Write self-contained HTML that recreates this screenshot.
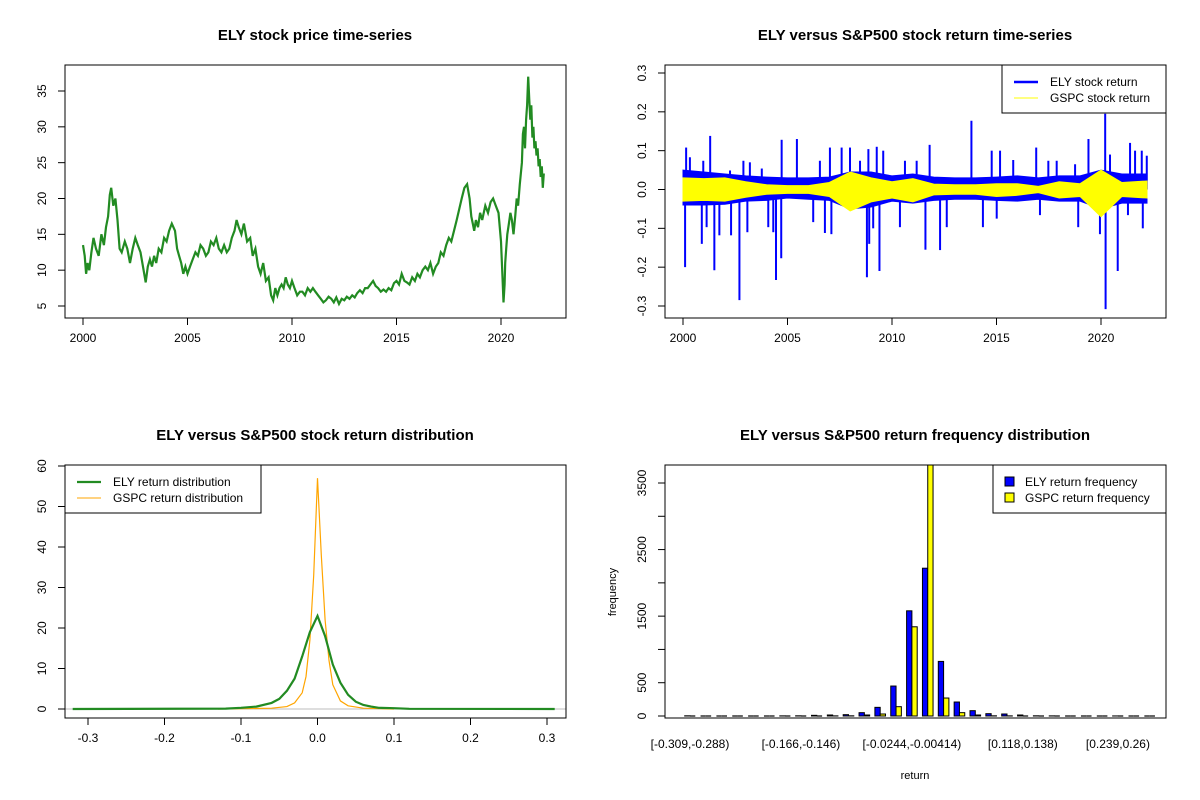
<!DOCTYPE html>
<html><head><meta charset="utf-8">
<style>
body{margin:0;background:#fff;}
svg{display:block;font-family:"Liberation Sans",Arial,sans-serif;}
</style></head>
<body>
<svg id="c" width="1200" height="800" viewBox="0 0 1200 800" xmlns="http://www.w3.org/2000/svg"></svg>
<script>
// ---- Panel 1: ELY price ----
const priceYears=[2000.0,2000.08,2000.15,2000.22,2000.3,2000.4,2000.5,2000.62,2000.75,2000.88,2001.0,2001.1,2001.2,2001.28,2001.35,2001.45,2001.55,2001.65,2001.75,2001.85,2002.0,2002.12,2002.25,2002.38,2002.5,2002.62,2002.75,2002.9,2003.0,2003.1,2003.2,2003.3,2003.4,2003.5,2003.62,2003.75,2003.88,2004.0,2004.12,2004.25,2004.4,2004.5,2004.6,2004.7,2004.8,2004.9,2005.0,2005.12,2005.25,2005.38,2005.5,2005.62,2005.75,2005.88,2006.0,2006.12,2006.25,2006.38,2006.5,2006.62,2006.75,2006.88,2007.0,2007.12,2007.25,2007.35,2007.45,2007.58,2007.7,2007.85,2008.0,2008.12,2008.25,2008.38,2008.5,2008.62,2008.75,2008.88,2009.0,2009.1,2009.2,2009.3,2009.4,2009.5,2009.6,2009.7,2009.8,2009.9,2010.0,2010.12,2010.25,2010.38,2010.5,2010.62,2010.75,2010.88,2011.0,2011.12,2011.25,2011.38,2011.5,2011.62,2011.75,2011.88,2012.0,2012.12,2012.25,2012.38,2012.5,2012.62,2012.75,2012.88,2013.0,2013.12,2013.25,2013.38,2013.5,2013.62,2013.75,2013.88,2014.0,2014.12,2014.25,2014.38,2014.5,2014.62,2014.75,2014.88,2015.0,2015.12,2015.25,2015.38,2015.5,2015.62,2015.75,2015.88,2016.0,2016.12,2016.25,2016.38,2016.5,2016.62,2016.75,2016.88,2017.0,2017.12,2017.25,2017.38,2017.5,2017.62,2017.75,2017.88,2018.0,2018.12,2018.25,2018.38,2018.5,2018.58,2018.65,2018.72,2018.8,2018.9,2019.0,2019.1,2019.25,2019.38,2019.5,2019.62,2019.75,2019.88,2020.0,2020.07,2020.12,2020.17,2020.2,2020.25,2020.3,2020.38,2020.45,2020.52,2020.6,2020.68,2020.75,2020.82,2020.9,2021.0,2021.05,2021.1,2021.15,2021.2,2021.25,2021.3,2021.35,2021.4,2021.45,2021.5,2021.55,2021.6,2021.65,2021.7,2021.75,2021.8,2021.85,2021.9,2021.95,2022.0,2022.05,2022.1,2022.15];
const priceVals=[13.5,12,9.5,11,10,12.5,14.5,13,12,15,13.5,16,17.5,20.5,21.5,19,20,17,13,12.5,14,13,11,13,14.5,13.5,12.5,10,8.3,10.5,11.5,10.5,12,11,13,12.5,14.5,14,15.5,16.5,15.5,13,12,11,9.5,10.5,9.5,10.5,11.5,12.5,12,13.5,13,12,12.5,14,13.5,14.5,13,12.5,13.5,12.5,13,14.5,15.5,17,16,15,16.5,14,14.5,12,13,10.5,9.5,11,8.5,9,6.5,5.8,7.5,6.5,7.5,8,7.5,9,8,7.5,8.5,7.5,6.5,7,7,6.5,7.5,7,7.5,7,6.5,6,5.5,5.8,6.3,6,5.5,6.2,5.3,6,5.8,6.3,6,6.5,6.2,6.8,7.2,6.8,7.5,7.5,8,8.5,7.8,7.5,7,7.3,7,7.5,7.2,8.2,8.5,8,9.5,8.5,8.3,8,9,8.5,9.5,9,10,10.5,10,11,9.5,10.5,11,12.5,12,13.5,14.5,14,15.5,17,18.5,20,21.5,22,20,17.5,16.5,15.5,17,16,18,17,19,18,19.5,20,19,18,14,9,5.5,8,11,13,15,16.5,18,17,15,17.5,20,19,22,25,29,30,27,31,33,37,34,31,33,28.5,30,27,28,26,27,24.5,25.5,23,24.5,21.5,23.5];
const priceTicksX=[2000,2005,2010,2015,2020];
const priceTicksY=[5,10,15,20,25,30,35];
// ---- Panel 2: returns ----
const retYears=[2000,2001,2002,2003,2004,2005,2006,2007,2008,2009,2010,2011,2012,2013,2014,2015,2016,2017,2018,2019,2020,2021,2022.2];
const elyHi=[0.05,0.045,0.04,0.035,0.032,0.03,0.03,0.032,0.045,0.045,0.035,0.04,0.032,0.03,0.03,0.032,0.035,0.03,0.035,0.035,0.05,0.04,0.04];
const elyLo=[-0.04,-0.04,-0.038,-0.03,-0.028,-0.022,-0.025,-0.028,-0.05,-0.045,-0.03,-0.035,-0.028,-0.025,-0.025,-0.028,-0.03,-0.025,-0.03,-0.03,-0.05,-0.035,-0.035];
const gspcHi=[0.03,0.028,0.03,0.02,0.012,0.01,0.01,0.018,0.045,0.03,0.02,0.028,0.014,0.012,0.012,0.015,0.015,0.008,0.02,0.015,0.05,0.018,0.022];
const gspcLo=[-0.03,-0.028,-0.03,-0.02,-0.012,-0.01,-0.01,-0.018,-0.055,-0.032,-0.022,-0.032,-0.014,-0.012,-0.012,-0.018,-0.015,-0.008,-0.022,-0.018,-0.07,-0.018,-0.022];
const spikeYears=[2000.1,2000.15,2000.33,2000.9,2000.97,2001.13,2001.3,2001.5,2001.74,2002.25,2002.3,2002.7,2002.89,2003.08,2003.2,2003.77,2004.08,2004.32,2004.45,2004.7,2004.72,2005.45,2006.23,2006.55,2006.79,2007.03,2007.1,2007.59,2007.99,2008.47,2008.8,2008.87,2008.91,2009.1,2009.27,2009.4,2009.58,2010.38,2010.62,2011.18,2011.6,2011.8,2012.3,2012.62,2013.8,2014.35,2014.77,2015.01,2015.17,2015.8,2016.9,2017.08,2017.48,2017.88,2018.76,2018.91,2019.4,2019.95,2020.2,2020.22,2020.43,2020.8,2021.29,2021.39,2021.63,2021.95,2022.0,2022.19];
const spikeVals=[-0.2,0.108,0.083,-0.14,0.074,-0.097,0.138,-0.208,-0.118,0.049,-0.118,-0.285,0.074,-0.11,0.07,0.054,-0.097,-0.11,-0.233,-0.177,0.128,0.13,-0.084,0.074,-0.112,0.108,-0.115,0.108,0.108,0.074,-0.226,0.104,-0.14,-0.1,0.11,-0.21,0.1,-0.097,0.074,0.074,-0.155,0.115,-0.156,-0.097,0.177,-0.097,0.1,-0.075,0.1,0.076,0.108,-0.066,0.074,0.074,0.065,-0.097,0.13,-0.115,0.195,-0.308,0.09,-0.21,-0.066,0.12,0.1,0.1,-0.1,0.087];
const retTicksY=[-0.3,-0.2,-0.1,0.0,0.1,0.2,0.3];
// ---- Panel 3: densities ----
const densX=[-0.32,-0.12,-0.1,-0.08,-0.06,-0.05,-0.04,-0.03,-0.02,-0.01,0,0.01,0.02,0.03,0.04,0.05,0.06,0.07,0.08,0.1,0.12,0.31];
const elyDens=[0,0.1,0.3,0.6,1.5,2.5,4.5,7.5,13,19,23,18,11,6.5,3.5,1.8,1,0.6,0.3,0.2,0.05,0];
const gspcX=[-0.13,-0.06,-0.04,-0.03,-0.02,-0.015,-0.01,-0.005,0,0.005,0.01,0.015,0.02,0.03,0.04,0.06,0.1];
const gspcDens=[0,0.2,0.6,1.5,4,8,17,33,57,38,22,12,6,2,0.8,0.2,0];
const densTicksX=[-0.3,-0.2,-0.1,0,0.1,0.2,0.3];
const densTicksY=[0,10,20,30,40,50,60];
// ---- Panel 4: histogram ----
const elyFreq=[3,0,0,0,0,0,2,3,10,15,20,50,130,450,1580,2220,820,210,80,35,30,15,3,2,0,0,0,1,0,0];
const gspcFreq=[0,0,0,0,0,0,0,0,0,2,3,15,30,140,1340,3900,270,50,15,3,2,0,0,0,0,0,0,0,0,0];
const binLabels=["[-0.309,-0.288)","[-0.166,-0.146)","[-0.0244,-0.00414)","[0.118,0.138)","[0.239,0.26)"];
const binLabelIdx=[0,7,14,21,27];
const freqTicks=[0,500,1000,1500,2000,2500,3000,3500];
const freqTickLabels=["0","500","","1500","","2500","","3500"];

const svg=document.getElementById('c');
const NS='http://www.w3.org/2000/svg';
function mk(tag,attrs,parent,name,text){
  const e=document.createElementNS(NS,tag);
  for(const k in attrs)e.setAttribute(k,attrs[k]);
  
  
  if(text!==undefined)e.textContent=text;
  (parent||svg).appendChild(e);return e;
}
function lin(d0,d1,r0,r1){return v=>r0+(v-d0)*(r1-r0)/(d1-d0);}
function frame(x0,y0,x1,y1,name){mk('rect',{x:x0,y:y0,width:x1-x0,height:y1-y0,fill:'none',stroke:'#000','stroke-width':1},svg,name);}
function title(t,cx,y){mk('text',{x:cx,y:y,'text-anchor':'middle','font-size':15,'font-weight':'bold'},svg,'chart-title',t);}
function xAxis(ticks,sx,y,labels,name){
  const g=mk('g',{},svg,name);
  mk('line',{x1:sx(ticks[0]),x2:sx(ticks[ticks.length-1]),y1:y,y2:y,stroke:'#000'},g,'x-axis-line');
  ticks.forEach((t,i)=>{mk('line',{x1:sx(t),x2:sx(t),y1:y,y2:y+7,stroke:'#000'},g,'x-tick');
    mk('text',{x:sx(t),y:y+24,'text-anchor':'middle','font-size':12},g,'x-tick-label',labels?labels[i]:String(t));});
}
function yAxis(ticks,sy,x,labels,name){
  const g=mk('g',{},svg,name);
  mk('line',{x1:x,x2:x,y1:sy(ticks[0]),y2:sy(ticks[ticks.length-1]),stroke:'#000'},g,'y-axis-line');
  ticks.forEach((t,i)=>{const y=sy(t);mk('line',{x1:x,x2:x-7,y1:y,y2:y,stroke:'#000'},g,'y-tick');
    const lx=x-19;
    mk('text',{x:lx,y:y,'text-anchor':'middle','font-size':12,transform:`rotate(-90 ${lx} ${y})`},g,'y-tick-label',labels?labels[i]:String(t));});
}
function poly(xs,ys,sx,sy){return xs.map((x,i)=>sx(x).toFixed(1)+','+sy(ys[i]).toFixed(1)).join(' ');}

// Panel 1
{
 const sx=lin(2000,2020,83,501), sy=lin(5,35,306,91);
 title('ELY stock price time-series',315,40);
 mk('polyline',{points:poly(priceYears,priceVals,sx,sy),fill:'none',stroke:'#228B22','stroke-width':2.2,'stroke-linejoin':'miter'},svg,'ely-price-line');
 frame(65,65,566,318,'plot-frame-price');
 xAxis(priceTicksX,sx,318,null,'x-axis-price');
 yAxis(priceTicksY,sy,65,null,'y-axis-price');
}
// Panel 2
{
 const sx=lin(2000,2020,683,1101), sy=lin(-0.3,0.3,306,73);
 title('ELY versus S&P500 stock return time-series',915,40);
 const revY=retYears.slice().reverse();
 mk('polygon',{points:poly(retYears.concat(revY),elyHi.concat(elyLo.slice().reverse()),sx,sy),fill:'#0000FF',stroke:'#0000FF'},svg,'ely-return-band');
 spikeYears.forEach((yr,i)=>{mk('line',{x1:sx(yr),x2:sx(yr),y1:sy(0),y2:sy(spikeVals[i]),stroke:'#0000FF','stroke-width':2},svg,'ely-return-spike');});
 mk('polygon',{points:poly(retYears.concat(revY),gspcHi.concat(gspcLo.slice().reverse()),sx,sy),fill:'#FFFF00',stroke:'#FFFF00'},svg,'gspc-return-band');
 frame(665,65,1166,318,'plot-frame-returns');
 xAxis(priceTicksX,sx,318,null,'x-axis-returns');
 yAxis(retTicksY,sy,665,retTicksY.map(v=>v.toFixed(1)),'y-axis-returns');
 const lg=mk('g',{},svg,'legend-returns');
 mk('rect',{x:1002,y:65,width:164,height:48,fill:'#fff',stroke:'#000'},lg,'legend-box');
 mk('line',{x1:1014,x2:1038,y1:82,y2:82,stroke:'#0000FF','stroke-width':2.5},lg,'legend-swatch-ely');
 mk('text',{x:1050,y:86,'font-size':12},lg,'legend-entry-ely','ELY stock return');
 mk('line',{x1:1014,x2:1038,y1:98,y2:98,stroke:'#FFFF00','stroke-width':1},lg,'legend-swatch-gspc');
 mk('text',{x:1050,y:102,'font-size':12},lg,'legend-entry-gspc','GSPC stock return');
}
// Panel 3
{
 const sx=lin(-0.3,0.3,88,547), sy=lin(0,60,709,466);
 title('ELY versus S&P500 stock return distribution',315,440);
 mk('line',{x1:65,x2:566,y1:sy(0),y2:sy(0),stroke:'#BEBEBE'},svg,'zero-baseline');
 mk('polyline',{points:poly(gspcX,gspcDens,sx,sy),fill:'none',stroke:'#FFA500','stroke-width':1.2},svg,'gspc-density-line');
 mk('polyline',{points:poly(densX,elyDens,sx,sy),fill:'none',stroke:'#228B22','stroke-width':2.2},svg,'ely-density-line');
 frame(65,465,566,718,'plot-frame-density');
 xAxis(densTicksX,sx,718,densTicksX.map(v=>v===0?'0.0':v.toFixed(1)),'x-axis-density');
 yAxis(densTicksY,sy,65,null,'y-axis-density');
 const lg=mk('g',{},svg,'legend-density');
 mk('rect',{x:65,y:465,width:196,height:48,fill:'#fff',stroke:'#000'},lg,'legend-box');
 mk('line',{x1:77,x2:101,y1:482,y2:482,stroke:'#228B22','stroke-width':2.2},lg,'legend-swatch-ely');
 mk('text',{x:113,y:486,'font-size':12},lg,'legend-entry-ely','ELY return distribution');
 mk('line',{x1:77,x2:101,y1:498,y2:498,stroke:'#FFA500','stroke-width':1},lg,'legend-swatch-gspc');
 mk('text',{x:113,y:502,'font-size':12},lg,'legend-entry-gspc','GSPC return distribution');
}
// Panel 4
{
 const sy=lin(0,3500,716,483);
 const gw=15.85, x0=690;
 const cx=i=>x0+i*gw;
 title('ELY versus S&P500 return frequency distribution',915,440);
 const clip=mk('clipPath',{id:'hc'},svg,'hist-clip');
 mk('rect',{x:665,y:465,width:501,height:253},clip,'hist-clip-rect');
 const g=mk('g',{'clip-path':'url(#hc)'},svg,'histogram-bars');
 function bar(x,v,fill,name){
   if(v<=0){mk('line',{x1:x,x2:x+5.3,y1:sy(0),y2:sy(0),stroke:'#000','stroke-width':1.2},g,name);}
   else mk('rect',{x:x,y:sy(v),width:5.3,height:sy(0)-sy(v),fill:fill,stroke:'#000','stroke-width':1},g,name);
 }
 elyFreq.forEach((v,i)=>{bar(cx(i)-5.3,v,'#0000FF','bar-ely');});
 gspcFreq.forEach((v,i)=>{bar(cx(i),v,'#FFFF00','bar-gspc');});
 frame(665,465,1166,718,'plot-frame-hist');
 binLabelIdx.forEach((bi,i)=>{mk('text',{x:cx(bi),y:748,'text-anchor':'middle','font-size':12},svg,'x-tick-label',binLabels[i]);});
 yAxis(freqTicks,sy,665,freqTickLabels,'y-axis-hist');
 mk('text',{x:915,y:779,'text-anchor':'middle','font-size':11},svg,'x-axis-title','return');
 mk('text',{x:616,y:592,'text-anchor':'middle','font-size':11,transform:'rotate(-90 616 592)'},svg,'y-axis-title','frequency');
 const lg=mk('g',{},svg,'legend-hist');
 mk('rect',{x:993,y:465,width:173,height:48,fill:'#fff',stroke:'#000'},lg,'legend-box');
 mk('rect',{x:1005,y:477,width:9,height:9,fill:'#0000FF',stroke:'#000'},lg,'legend-swatch-ely');
 mk('text',{x:1025,y:486,'font-size':12},lg,'legend-entry-ely','ELY return frequency');
 mk('rect',{x:1005,y:493,width:9,height:9,fill:'#FFFF00',stroke:'#000'},lg,'legend-swatch-gspc');
 mk('text',{x:1025,y:502,'font-size':12},lg,'legend-entry-gspc','GSPC return frequency');
}
</script>
</body></html>
